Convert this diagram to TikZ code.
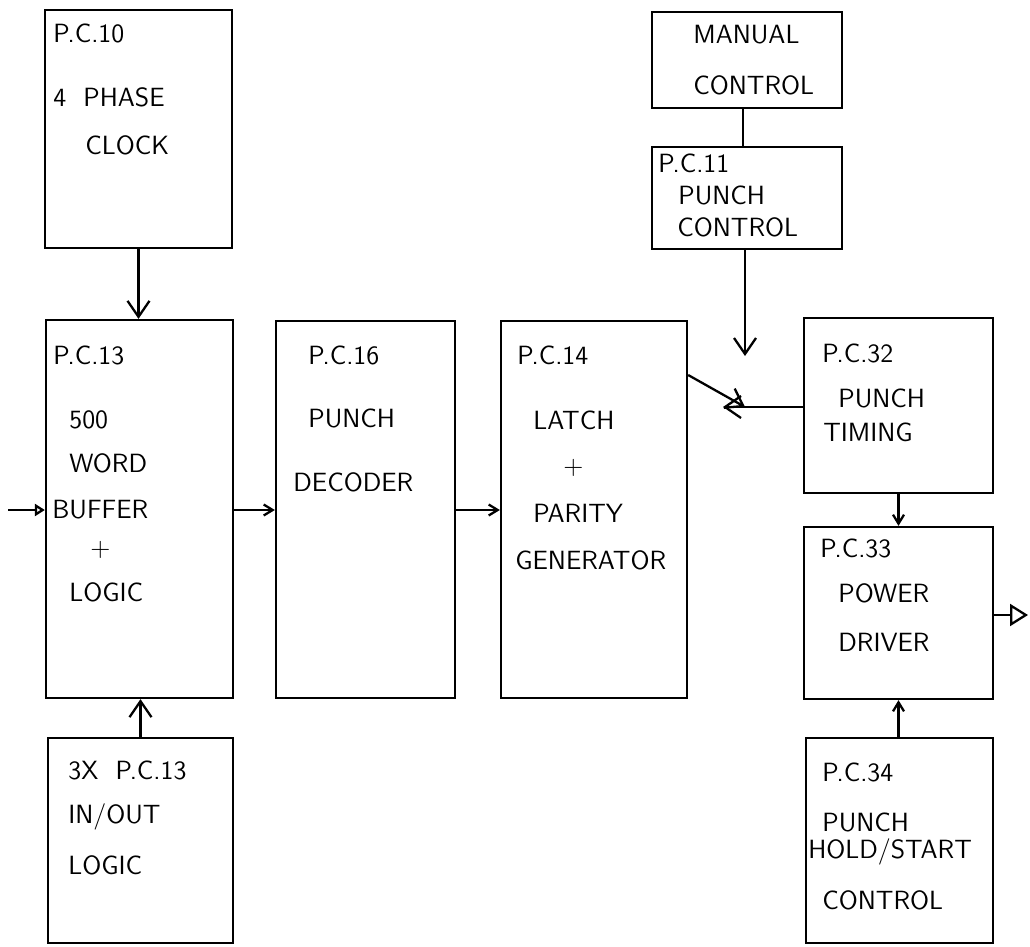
\documentclass[tikz,border=0pt]{standalone}
\usepackage{tikz}
\usetikzlibrary{arrows.meta, positioning, fit, calc}

\begin{document}
\begin{tikzpicture}[x=0.02cm,y=-0.02cm,
  blk/.style={draw, line width=1.3pt, inner sep=0pt},
  txt/.style={anchor=west, inner sep=0pt, font=\fontsize{15}{17}\sffamily},
  vee/.style={line width=1.3pt, -{Straight Barb[length=0.32cm,width=0.44cm,line width=1.3pt]}},
  barb/.style={line width=1.3pt, -{Straight Barb[length=0.18cm,width=0.22cm,line width=1.3pt]}},
  tri/.style={line width=1.3pt, -{Triangle[open,length=0.36cm,width=0.44cm,line width=1.3pt]}},
  trismall/.style={line width=1.3pt, -{Triangle[open,length=0.2cm,width=0.24cm,line width=1.3pt]}}]

\useasboundingbox (0,0) rectangle (1030,946);

% --- P.C.10: clock
\node[blk, fit={(45,10) (232,248)}] (p10) {};
\node[txt] (p10a) at (53,33) {P.C.10};
\node[txt] (p10b) at (53,97) {4 \ PHASE};
\node[txt] (p10c) at (85,145) {CLOCK};

% --- P.C.13: buffer
\node[blk, fit={(46,320) (233,698)}] (p13) {};
\node[txt] (p13a) at (53,355) {P.C.13};
\node[txt] (p13b) at (69,420) {500};
\node[txt] (p13c) at (69,463) {WORD};
\node[txt] (p13d) at (52,510) {BUFFER};
\node[txt] (p13e) at (90,550) {+};
\node[txt] (p13f) at (69,592) {LOGIC};

% --- 3X P.C.13: in/out
\node[blk, fit={(48,738) (233,943)}] (io) {};
\node[txt] (ioa) at (68,770) {3X \ P.C.13};
\node[txt] (iob) at (68,817) {IN/OUT};
\node[txt] (ioc) at (68,865) {LOGIC};

% --- P.C.16: decoder
\node[blk, fit={(276,321) (455,698)}] (p16) {};
\node[txt] (p16a) at (308,355) {P.C.16};
\node[txt] (p16b) at (308,418) {PUNCH};
\node[txt] (p16c) at (293,482) {DECODER};

% --- P.C.14: latch
\node[blk, fit={(501,321) (687,698)}] (p14) {};
\node[txt] (p14a) at (517,355) {P.C.14};
\node[txt] (p14b) at (533,420) {LATCH};
\node[txt] (p14c) at (563,468) {+};
\node[txt] (p14d) at (533,513) {PARITY};
\node[txt] (p14e) at (515,560) {GENERATOR};

% --- manual + P.C.11
\node[blk, fit={(652,12) (842,108)}] (man) {};
\node[txt] (mana) at (693,35) {MANUAL};
\node[txt] (manb) at (693,85) {CONTROL};
\node[blk, fit={(652,147) (842,249)}] (p11) {};
\node[txt] (p11a) at (658,163) {P.C.11};
\node[txt] (p11b) at (678,195) {PUNCH};
\node[txt] (p11c) at (677,227) {CONTROL};

% --- right column: P.C.32, 33, 34
\node[blk, fit={(804,318) (993,493)}] (p32) {};
\node[txt] (p32a) at (822,353) {P.C.32};
\node[txt] (p32b) at (838,398) {PUNCH};
\node[txt] (p32c) at (823,432) {TIMING};
\node[blk, fit={(804,527) (993,699)}] (p33) {};
\node[txt] (p33a) at (820,548) {P.C.33};
\node[txt] (p33b) at (838,593) {POWER};
\node[txt] (p33c) at (838,642) {DRIVER};
\node[blk, fit={(806,738) (993,943)}] (p34) {};
\node[txt] (p34a) at (822,772) {P.C.34};
\node[txt] (p34b) at (822,822) {PUNCH};
\node[txt] (p34c) at (808,852) {HOLD/START};
\node[txt] (p34d) at (822,900) {CONTROL};

% --- free ends
\coordinate (in) at (8,510);
\coordinate (bus) at (0,510);
\coordinate (pt) at (745,356);
\coordinate (jn) at (745,407);
\coordinate (out) at (1028,615);

% --- connectors
\draw[vee] (p10.south) -- (p10.south |- p13.north);
\draw[vee] (io.north) -- (io.north |- p13.south);
\draw[trismall] (in) -- (in -| p13.west);
\draw[barb] (p13.east |- bus) -- (p16.west |- bus);
\draw[barb] (p16.east |- bus) -- (p14.west |- bus);
\draw[line width=1.3pt] (man.south -| 743,0) -- (p11.north -| 743,0);
\draw[vee] (p11.south -| pt) -- (pt);
\draw[vee] (p14.east |- 0,375) -- (jn);
\draw[vee] (p32.west |- jn) -- (jn) -- ++(-22,0);
\draw[barb] (p32.south) -- (p33.north);
\draw[barb] (p34.north -| p33.south) -- (p33.south);
\draw[tri] (p33.east |- out) -- (out);
\end{tikzpicture}
\end{document}
